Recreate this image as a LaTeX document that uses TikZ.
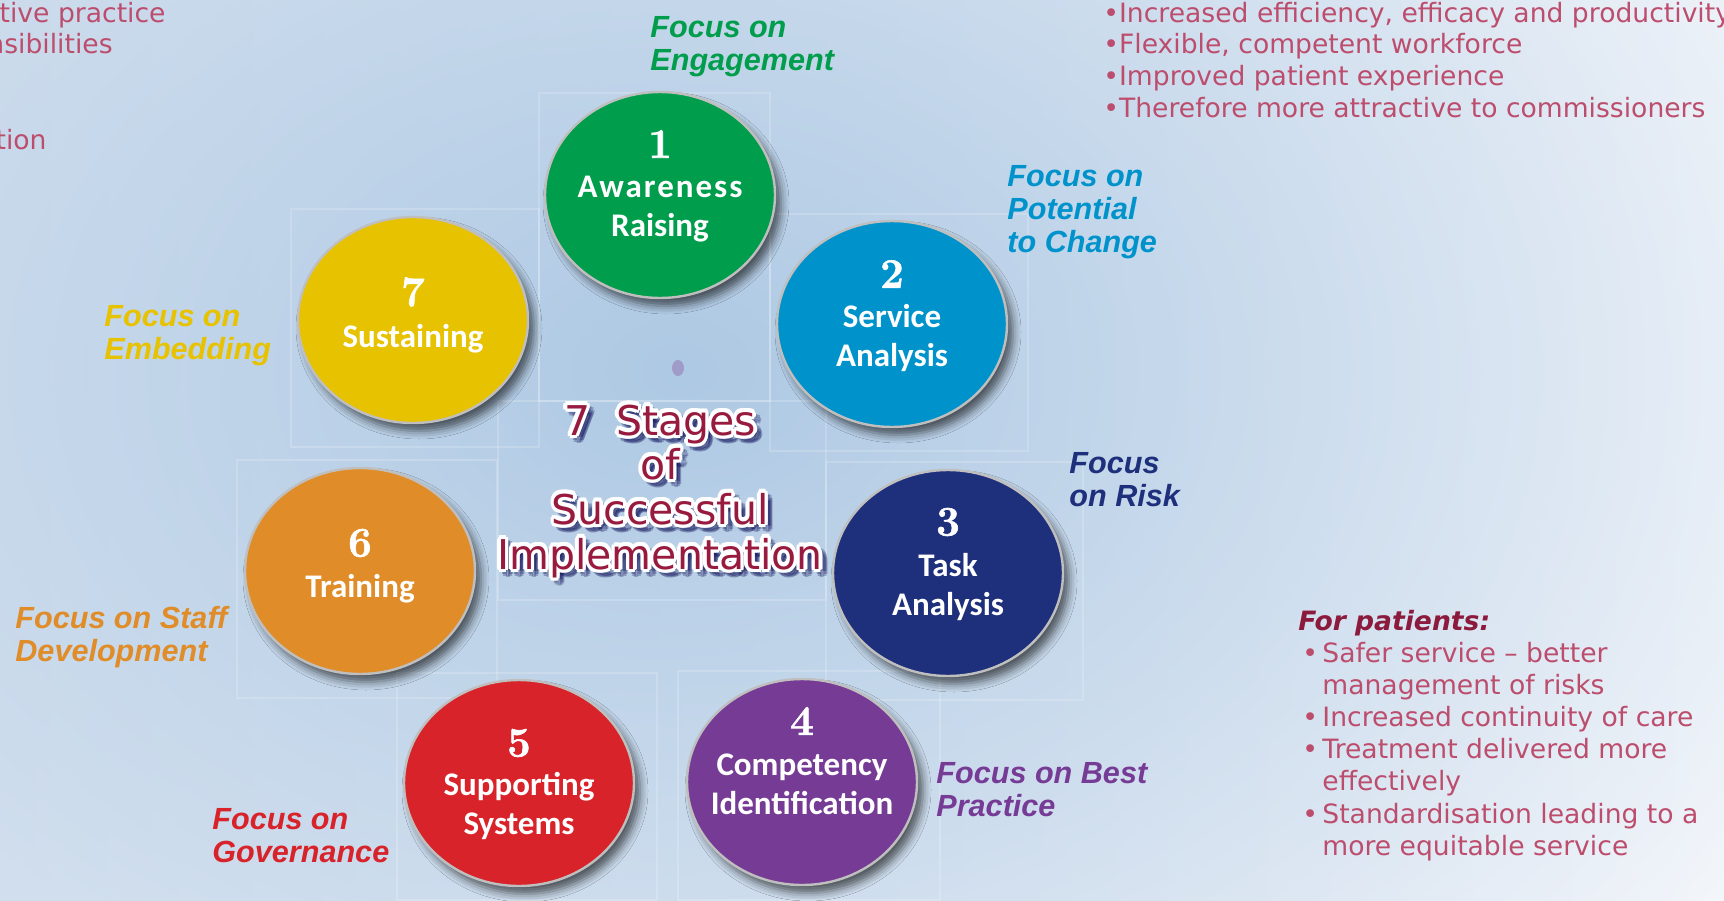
\documentclass[tikz,border=0pt]{standalone}
\usepackage{fontspec}
\newfontfamily\bodyfont{DejaVu Sans}
\newfontfamily\focusfont{Liberation Sans}
\newfontfamily\stagefont{Carlito}
\newfontfamily\numfont{Latin Modern Roman}[BoldFeatures={FakeBold=1.5}]
\usetikzlibrary{shapes.geometric,shadows.blur,fadings,calc}

\definecolor{bgleft}{HTML}{DDE6F1}
\definecolor{bgmid}{HTML}{D3E0EE}
\definecolor{bgright}{HTML}{F5F7FB}
\definecolor{bgcore}{HTML}{AEC9E4}
\definecolor{stgreen}{HTML}{009E4C}
\definecolor{stblue}{HTML}{0093CB}
\definecolor{stnavy}{HTML}{1E2F7B}
\definecolor{stpurple}{HTML}{763C95}
\definecolor{stred}{HTML}{D8232A}
\definecolor{storange}{HTML}{E08C28}
\definecolor{styellow}{HTML}{E7C200}
\definecolor{pinktext}{HTML}{BC4D6D}
\definecolor{patred}{HTML}{8C1A3C}
\definecolor{titlered}{HTML}{981B3F}
\definecolor{dotcol}{HTML}{9F9CCA}

\tikzfading[name=glow, inner color=transparent!0, outer color=transparent!100]

\begin{document}
\begin{tikzpicture}[
	                  x = 0.5pt,
	                  y = -0.5pt,
	       stage/.style = {ellipse, minimum width=115pt, minimum height=103pt, inner sep=0pt,
	                       draw=gray!50, line width=1.2pt,
	                       blur shadow={shadow xshift=3pt, shadow yshift=-4pt,
	                                    shadow blur radius=4pt, shadow opacity=60}},
	    stagenum/.style = {inner sep=0pt, text=white, font=\numfont\fontsize{21}{21}\selectfont\bfseries},
	    stagetxt/.style = {inner sep=0pt, anchor=north, align=center, text=white,
	                       font=\stagefont\bfseries\fontsize{16.5}{19.5}\selectfont},
	       focus/.style = {inner sep=0pt, anchor=north west, align=left,
	                       font=\focusfont\bfseries\itshape\fontsize{15.3}{16.5}\selectfont},
	        pink/.style = {inner sep=0pt, anchor=base west, text=pinktext,
	                       font=\bodyfont\fontsize{13.3}{16}\selectfont},
	    titletxt/.style = {inner sep=0pt, anchor=base, text=titlered,
	                       font=\bodyfont\fontsize{20.5}{22}\selectfont},
	       faint/.style = {draw=white, opacity=0.18, line width=0.6pt}
	                    ]
	\useasboundingbox (0,0) rectangle (1724,900);
	\clip (0,0) rectangle (1724,900);
	\fill[left color=bgleft, middle color=bgmid, right color=bgright] (0,0) rectangle (1724,900);
	\fill[bgcore, path fading=glow] (680,370) ellipse [x radius=1300, y radius=950];

	\foreach \xa/\ya/\xb/\yb in {539/93/770/401, 291/209/539/447, 770/214/1028/451, 826/462/1083/700,
	                             237/460/497/698, 678/671/940/900, 397/673/657/900, 498/401/826/600}
		\draw[faint] (\xa,\ya) rectangle (\xb,\yb);
	\fill[dotcol] (678,368) ellipse [x radius=6, y radius=8];

	\foreach \k/\cx/\cy/\col/\nd/\tb/\txt in {
		1/660/195/stgreen/-51/2/{{\addfontfeature{LetterSpace=6}Awareness}\\Raising},
		2/892/324/stblue/-50/1/{Service\\Analysis},
		3/948/573/stnavy/-51/1/{Task\\Analysis},
		4/802/782/stpurple/-61/-8/{Competency\\Identification},
		5/519/783/stred/-40/10/{Supporting\\Systems},
		6/360/571/storange/-28/24/{Training},
		7/413/320/styellow/-28/25/{Sustaining}}
	{
		\node[stage, fill=\col] (s\k) at (\cx,\cy) {};
		\node[stagenum] (n\k) at ($(s\k)+(0,\nd)$) {\k};
		\node[stagetxt] (t\k) at ($(s\k)+(0,{\tb-21})$) {\txt};
	}

	\node[focus, text=stgreen]  (f1) at (650,16)   {Focus on\\Engagement};
	\node[focus, text=stblue]   (f2) at (1007,165) {Focus on\\Potential\\to Change};
	\node[focus, text=stnavy]   (f3) at (1069,452) {Focus\\on Risk};
	\node[focus, text=stpurple] (f4) at (936,762)  {Focus on Best\\Practice};
	\node[focus, text=stred]    (f5) at (212,808)  {Focus on\\Governance};
	\node[focus, text=storange] (f6) at (15,606)   {Focus on Staff\\Development};
	\node[focus, text=styellow] (f7) at (104,305)  {Focus on\\Embedding};

	\foreach \ttl/\ty [count=\i] in {{7~~Stages}/435, of/479, Successful/524, Implementation/569} {
		\foreach \a in {0,45,...,315}
			\node[titletxt, text=black!70!blue, opacity=0.25] (tsh\i) at ($(665,\ty+5)+(\a:3.5)$) {\ttl};
		\foreach \a in {0,30,...,330}
			\node[titletxt, text=white] (tol\i) at ($(660,\ty)+(\a:3.5)$) {\ttl};
		\node[titletxt] (title\i) at (660,\ty) {\ttl};
	}

	\foreach \ty/\txt [count=\i] in {22/{•Increased efficiency, efficacy and productivity},
	                                 53/{•Flexible, competent workforce},
	                                 85/{•Improved patient experience},
	                                 117/{•Therefore more attractive to commissioners}}
		\node[pink] (gain\i) at (1103,\ty) {\txt};
	\node[pink, anchor=base east] (prof1) at (166,22) {ctive practice};
	\node[pink, anchor=base east] (prof2) at (113,53) {nsibilities};
	\node[pink, anchor=base east] (prof3) at (47,149) {tion};

	\node[pink, text=patred, font=\bodyfont\bfseries\itshape\fontsize{13.3}{16}\selectfont] (pat) at (1298,630) {For patients:};
	\foreach \ty [count=\i] in {662,726,758,823}
		\node[pink] (pb\i) at (1302,\ty) {•};
	\foreach \ty/\txt [count=\i] in {662/{Safer service – better}, 694/{management of risks},
	                                 726/{Increased continuity of care}, 758/{Treatment delivered more},
	                                 790/effectively, 823/{Standardisation leading to a},
	                                 855/{more equitable service}}
		\node[pink] (pt\i) at (1322,\ty) {\txt};
\end{tikzpicture}
\end{document}
